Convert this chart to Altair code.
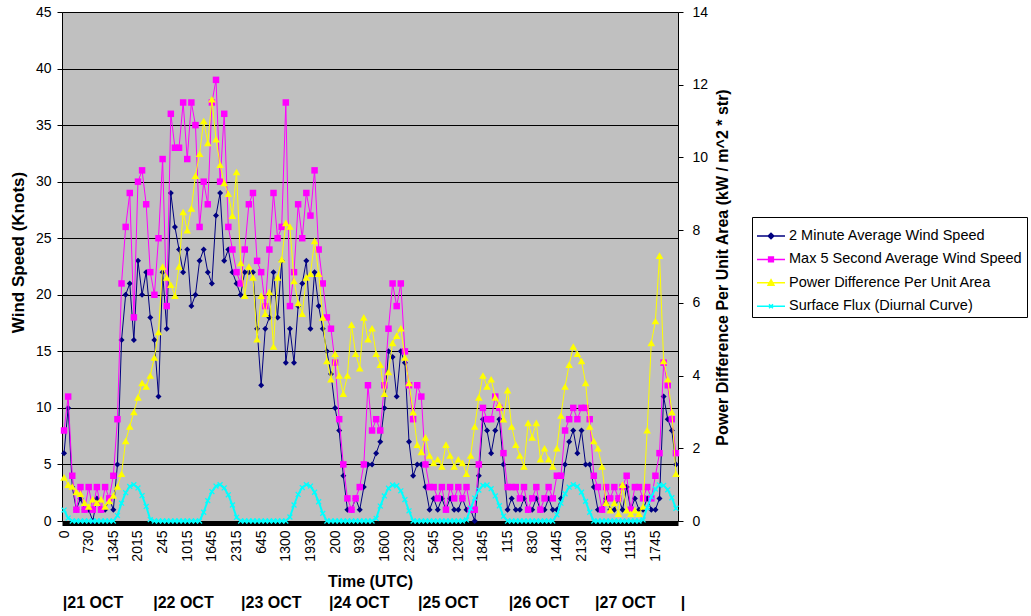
import altair as alt
import pandas as pd

FONT = "Liberation Sans"

# ---------------- data ----------------
time_labels = ["0", "730", "1345", "2015", "245", "1015", "1645", "2315", "645", "1300",
               "1930", "200", "930", "1600", "2230", "545", "1200", "1845", "115", "830",
               "1445", "2130", "430", "1115", "1745"]
samples_per_label = 6

day_labels = ["|21 OCT", "|22 OCT", "|23 OCT", "|24 OCT", "|25 OCT", "|26 OCT", "|27 OCT", "|"]
day_index = [-0.3, 21.7, 43.1, 64.5, 86.2, 108.3, 129.3, 150.2]

wind_2min = [6, 10, 3, 1, 2, 1, 1, 0, 2, 1,
             1, 2, 1, 5, 16, 20, 21, 16, 23, 20,
             22, 18, 16, 11, 22, 17, 29, 26, 24, 22,
             24, 19, 20, 23, 24, 22, 21, 27, 29, 23,
             24, 22, 21, 20, 22, 22, 22, 17, 12, 17,
             18, 22, 18, 23, 14, 17, 14, 19, 21, 23,
             17, 22, 19, 17, 15, 13, 10, 8, 4, 1,
             1, 2, 1, 3, 5, 5, 6, 7, 10, 15,
             14.5, 11, 15, 14, 7, 4, 5, 5, 3, 1,
             2, 1, 2, 1, 2, 1, 1, 2, 1, 1,
             0, 4, 9, 8, 6, 8, 9, 5, 1, 2,
             1, 1, 2, 1, 1, 2, 1, 1, 2, 1,
             1, 2, 5, 7, 8, 6, 8, 5, 5, 3,
             1, 1, 2, 1, 1, 2, 1, 3, 1, 2,
             1, 1, 2, 1, 1, 2, 11, 9, 8, 5]

wind_max5s = [8, 11, 4, 1, 3, 1, 3, 1, 3, 1,
              3, 2, 4, 9, 21, 26, 29, 18, 30, 31,
              28, 22, 20, 25, 32, 19, 36, 33, 33, 37,
              32, 37, 35, 26, 30, 28, 37, 39, 30, 36,
              26, 24, 22, 21, 24, 28, 29, 23, 22, 19,
              24, 29, 25, 26, 37, 19, 22, 28, 25, 29,
              27, 31, 24, 21, 18, 17, 14, 9, 5, 2,
              1, 2, 3, 5, 12, 8, 9, 8, 12, 17,
              21, 19, 21, 15, 12, 9, 12, 11, 5, 3,
              3, 2, 3, 1, 3, 2, 3, 2, 3, 1,
              1, 5, 10, 9, 9, 11, 10, 6, 3, 3,
              3, 2, 3, 1, 2, 3, 1, 2, 3, 2,
              4, 4, 8, 9, 10, 9, 10, 10, 9, 4,
              3, 1, 3, 2, 3, 2, 3, 4, 1, 3,
              3, 2, 3, 2, 4, 6, 14, 12, 9, 6]

power_diff = [1.2, 1.0, 0.95, 0.8, 0.75, 0.5, 0.4, 0.6, 0.5, 0.6,
              0.4, 0.55, 0.7, 0.95, 1.3, 2.2, 2.6, 3.0, 3.4, 3.8,
              3.7, 4.0, 4.5, 5.2, 7.0, 6.7, 6.5, 6.2, 7.0, 8.5,
              8.0, 8.6, 9.5, 10.1, 11.0, 10.4, 11.6, 10.5, 9.8, 9.3,
              9.0, 8.4, 9.6, 7.1, 6.2, 7.0, 6.7, 5.0, 6.2, 5.7,
              6.3, 4.8, 6.7, 7.2, 8.2, 8.1, 6.6, 6.0, 5.7, 6.7,
              6.8, 7.7, 6.8, 5.6, 4.4, 3.9, 4.6, 4.0, 3.5, 4.0,
              5.4, 4.6, 4.2, 5.6, 5.0, 5.3, 4.6, 4.3, 3.5, 4.1,
              4.9, 5.1, 5.3, 4.5, 3.8, 3.0, 2.1, 1.9, 2.3, 1.8,
              1.6, 1.7, 1.5, 2.1, 1.8, 1.5, 1.7, 1.6, 1.3, 1.8,
              2.6, 3.4, 4.0, 3.7, 3.9, 3.4, 3.2, 2.8, 3.6, 2.6,
              2.1, 1.8, 1.5, 2.7, 2.3, 2.7, 1.7, 2.0, 1.7, 1.5,
              2.0, 2.9, 3.7, 4.3, 4.8, 4.6, 4.4, 3.8, 2.6, 2.2,
              2.0, 1.5, 0.5, 0.3, 0.5, 0.2, 1.0, 0.3, 0.2, 0.3,
              0.2, 0.4, 2.5, 4.9, 5.5, 7.3, 4.4, 3.9, 3.0, 1.3]

surface_flux = [0.3, 0.08, 0, 0, 0, 0, 0, 0, 0, 0,
                0, 0, 0, 0.15, 0.49, 0.78, 0.95, 1.0, 0.91, 0.7,
                0.4, 0.04, 0, 0, 0, 0, 0, 0, 0, 0,
                0, 0, 0, 0, 0.24, 0.56, 0.81, 0.96, 1.0, 0.91,
                0.72, 0.44, 0.1, 0, 0, 0, 0, 0, 0, 0,
                0, 0, 0, 0, 0, 0.11, 0.44, 0.73, 0.92, 1.0,
                0.96, 0.79, 0.53, 0.21, 0, 0, 0, 0, 0, 0,
                0, 0, 0, 0, 0, 0, 0.07, 0.41, 0.69, 0.9,
                0.99, 0.97, 0.83, 0.59, 0.28, 0, 0, 0, 0, 0,
                0, 0, 0, 0, 0, 0, 0, 0, 0.03, 0.35,
                0.63, 0.85, 0.98, 0.99, 0.89, 0.69, 0.42, 0.13, 0, 0,
                0, 0, 0, 0, 0, 0, 0, 0, 0, 0,
                0.17, 0.49, 0.75, 0.93, 1.0, 0.95, 0.79, 0.54, 0.24, 0,
                0, 0, 0, 0, 0, 0, 0, 0, 0, 0,
                0, 0.03, 0.37, 0.67, 0.88, 0.99, 0.98, 0.86, 0.64, 0.35]

series_names = ["2 Minute Average Wind Speed", "Max 5 Second Average Wind Speed",
                "Power Difference Per Unit Area", "Surface Flux (Diurnal Curve)"]
series_colors = ["#000080", "#FF00FF", "#FFFF00", "#00FFFF"]

# ---------------- tables ----------------
n = len(wind_2min)
frames = []
for name, vals in zip(series_names, [wind_2min, wind_max5s, power_diff, surface_flux]):
    frames.append(pd.DataFrame({"i": list(range(n)), "series": name, "value": vals}))
long_df = pd.concat(frames, ignore_index=True)
days_df = pd.DataFrame({"pos": day_index, "label": day_labels})

# ---------------- encodings ----------------
label_array = "[" + ",".join("'" + t + "'" for t in time_labels) + "]"
x_scale = alt.Scale(domain=[-0.5, n - 0.5], nice=False, zero=False)
x_axis = alt.Axis(
    values=list(range(0, len(time_labels) * samples_per_label, samples_per_label)),
    labelExpr=label_array + "[round(datum.value / " + str(samples_per_label) + ")]",
    labelAngle=270, labelFont=FONT, labelFontSize=14, labelColor="black",
    labelPadding=7, ticks=False, domainColor="black", domainWidth=5, offset=2,
    grid=False, title="Time (UTC)", titleFont=FONT, titleFontSize=16,
    titleFontWeight="bold", titleColor="black", titleBaseline="middle", titleY=58,
)
x_enc = alt.X("i:Q", scale=x_scale, axis=x_axis)

y_left = alt.Y(
    "value:Q",
    scale=alt.Scale(domain=[0, 45], nice=False, zero=True),
    axis=alt.Axis(orient="left", values=list(range(0, 50, 5)), grid=True, gridColor="black",
                  gridWidth=1, gridOpacity=1, tickColor="black", tickSize=5, domainColor="black",
                  labelFont=FONT, labelFontSize=14, labelColor="black", labelPadding=6,
                  title="Wind Speed (Knots)", titleFont=FONT, titleFontSize=17,
                  titleFontWeight="bold", titleColor="black", titleAngle=270,
                  titleAlign="center", titleBaseline="middle", titleX=-44, titleY=240),
)
y_right = alt.Y(
    "value:Q",
    scale=alt.Scale(domain=[0, 14], nice=False, zero=True),
    axis=alt.Axis(orient="right", values=list(range(0, 16, 2)), grid=False, tickColor="black",
                  tickSize=5, domainColor="black", labelFont=FONT, labelFontSize=14,
                  labelColor="black", labelPadding=9,
                  title="Power Difference Per Unit Area (kW / m^2 * str)", titleFont=FONT,
                  titleFontSize=16, titleFontWeight="bold", titleColor="black",
                  titleAngle=270, titleAlign="center", titleBaseline="middle",
                  titleX=44, titleY=255),
)

base = alt.Chart(long_df)


def series_layers(name, color, shape, size, y_enc, filled=True, line_width=1.0, point_stroke=1.0):
    src = base.transform_filter(alt.datum.series == name)
    line = src.mark_line(color=color, strokeWidth=line_width).encode(x=x_enc, y=y_enc)
    pts = src.mark_point(color=color, shape=shape, size=size, filled=filled, opacity=1,
                         strokeWidth=point_stroke).encode(x=x_enc, y=y_enc)
    return [line, pts]


x_path = "M-1,-1L1,1M-1,1L1,-1"

# legend symbols: a short line with the series' marker on it
legend_paths = [
    "M-1,0L1,0M0,-0.2L0.2,0L0,0.2L-0.2,0Z",
    "M-1,0L1,0M-0.17,-0.17L0.17,-0.17L0.17,0.17L-0.17,0.17Z",
    "M-1,0L1,0M0,-0.22L0.21,0.17L-0.21,0.17Z",
    "M-1,0L1,0M-0.14,-0.14L0.14,0.14M-0.14,0.14L0.14,-0.14",
]
legend_def = alt.Legend(
    title=None, orient="none", legendX=690, legendY=205, fillColor="white",
    strokeColor="black", padding=4, labelFont=FONT, labelFontSize=14.5, labelColor="black",
    symbolSize=784, symbolStrokeWidth=1.5, symbolOpacity=1, labelLimit=400, rowPadding=1.4,
    labelOffset=3,
)
legend_layer = base.mark_point(opacity=0, filled=True, strokeWidth=1.5).encode(
    x=x_enc, y=y_left,
    fill=alt.Fill("series:N", scale=alt.Scale(domain=series_names, range=series_colors),
                  legend=legend_def),
    stroke=alt.Stroke("series:N", scale=alt.Scale(domain=series_names, range=series_colors),
                      legend=legend_def),
    shape=alt.Shape("series:N", scale=alt.Scale(domain=series_names, range=legend_paths),
                    legend=legend_def),
)

day_text = alt.Chart(days_df).mark_text(
    align="left", baseline="middle", font=FONT, fontSize=16, fontWeight="bold", color="black"
).encode(x=alt.X("pos:Q", scale=x_scale, axis=x_axis), y=alt.value(591), text="label:N")

left = alt.layer(
    *series_layers(series_names[0], series_colors[0], "diamond", 36, y_left),
    *series_layers(series_names[1], series_colors[1], "square", 42, y_left),
    legend_layer,
    day_text,
)
right = alt.layer(
    *series_layers(series_names[2], series_colors[2], "triangle-up", 58, y_right),
    *series_layers(series_names[3], series_colors[3], x_path, 24, y_right, filled=False,
                   line_width=2, point_stroke=1.3),
)

chart = (
    alt.layer(left, right)
    .resolve_scale(y="independent")
    .properties(
        width=616, height=509,
        autosize=alt.AutoSizeParams(type="none"),
        padding={"left": 62, "top": 12, "right": 353, "bottom": 95},
        background="white",
    )
    .configure_view(fill="#C0C0C0", stroke="#808080", strokeWidth=1)
)

chart.save("out.html", embed_options={"renderer": "svg", "actions": False})
